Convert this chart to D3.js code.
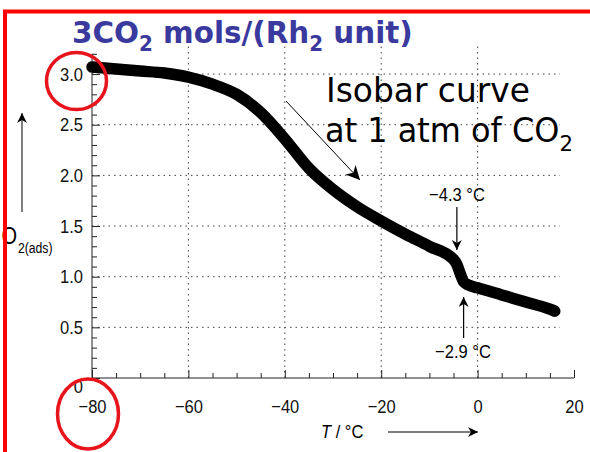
<!DOCTYPE html>
<html>
<head>
<meta charset="utf-8">
<script src="https://cdn.jsdelivr.net/npm/d3@7"></script>
<style>
  body { margin: 0; background: #fff; }
  svg { display: block; }
  .tick text { font-family: 'Liberation Sans', Arial, sans-serif; }
</style>
</head>
<body>
<div id="chart"></div>
<script>
// isobar data
const temps = [-80, -75, -70, -65, -60, -55, -50, -45, -40, -35, -30, -25, -20, -15, -10, -5, -4.3, -3.6, -2.9, -2, 0, 5, 10, 15, 16]
const amounts = [3.07, 3.05, 3.03, 3.01, 2.97, 2.90, 2.80, 2.62, 2.36, 2.07, 1.86, 1.69, 1.55, 1.42, 1.30, 1.17, 1.12, 1.03, 0.95, 0.92, 0.89, 0.82, 0.75, 0.68, 0.66]

const xTicks = [-80, -60, -40, -20, 0, 20]
const yTicks = [0, 0.5, 1.0, 1.5, 2.0, 2.5, 3.0]
const xGrid = [-60, -40, -20, 0]
const yGrid = [0.5, 1.0, 1.5, 2.0, 2.5, 3.0]

const width = 590
const height = 452
const sans = "'Liberation Sans', Arial, sans-serif"
const comic = "'Comic Sans MS', 'DejaVu Sans', sans-serif"
const squeeze = 0.87 // the source used a narrow Helvetica

const svg = d3.select('#chart')
  .append('svg')
  .attr('width', width)
  .attr('height', height)

const x = d3.scaleLinear().domain([-80, 20]).range([92, 574])
const y = d3.scaleLinear().domain([0, 3.2]).range([378, 53.8])

const defs = svg.append('defs')
defs.append('marker')
  .attr('id', 'head')
  .attr('viewBox', '0 0 10 10')
  .attr('refX', 10).attr('refY', 5)
  .attr('markerWidth', 10).attr('markerHeight', 10)
  .attr('markerUnits', 'userSpaceOnUse')
  .attr('orient', 'auto')
  .append('path').attr('d', 'M0,0 L10,5 L0,10 L3,5 Z').attr('fill', '#000')

defs.append('marker')
  .attr('id', 'bighead')
  .attr('viewBox', '0 0 10 10')
  .attr('refX', 10).attr('refY', 5)
  .attr('markerWidth', 16).attr('markerHeight', 14)
  .attr('markerUnits', 'userSpaceOnUse')
  .attr('orient', 'auto')
  .append('path').attr('d', 'M0,0 L10,5 L0,10 L3,5 Z').attr('fill', '#000')

// narrow a text horizontally around its anchor x
function narrow (sel, ax) {
  sel.attr('transform', 'translate(' + ax + ',0) scale(' + squeeze + ',1) translate(' + (-ax) + ',0)')
}

// grid
svg.append('g')
  .selectAll('line')
  .data(xGrid)
  .enter()
  .append('line')
  .attr('x1', d => x(d)).attr('x2', d => x(d))
  .attr('y1', y(0)).attr('y2', 43)
  .attr('stroke', '#444').attr('stroke-width', 1)
  .attr('stroke-dasharray', '1.5,4')

svg.append('g')
  .selectAll('line')
  .data(yGrid)
  .enter()
  .append('line')
  .attr('x1', x(-80)).attr('x2', 560)
  .attr('y1', d => y(d)).attr('y2', d => y(d))
  .attr('stroke', '#444').attr('stroke-width', 1)
  .attr('stroke-dasharray', '1.5,4')

// axes, ticks pointing inward
const xAxis = svg.append('g')
  .attr('transform', 'translate(0,' + y(0) + ')')
  .call(d3.axisBottom(x).tickValues(d3.range(-80, 21, 5)).tickSize(-5)
    .tickFormat(d => xTicks.includes(d) ? String(d).replace('-', '\u2212') : ''))
xAxis.select('.domain').attr('d', 'M' + x(-80) + ',0H' + x(20)).attr('stroke', '#222')
xAxis.selectAll('.tick line').attr('y2', d => xTicks.includes(d) ? -8 : -5).attr('stroke', '#222')
xAxis.selectAll('.tick text').attr('y', 22).attr('font-size', 19).attr('fill', '#111')
  .attr('transform', 'scale(' + squeeze + ',1)')

const yAxis = svg.append('g')
  .attr('transform', 'translate(' + x(-80) + ',0)')
  .call(d3.axisLeft(y).tickValues(d3.range(0, 33).map(i => i / 10)).tickSize(-5)
    .tickFormat(d => yTicks.some(t => Math.abs(t - d) < 1e-9) ? (d === 0 ? '0' : d3.format('.1f')(d)) : ''))
yAxis.select('.domain').attr('d', 'M0,' + y(0) + 'V' + y(3.2)).attr('stroke', '#222')
yAxis.selectAll('.tick line')
  .attr('x2', d => (Math.round(d * 10) % 5 === 0) ? 8 : 5)
  .attr('stroke', '#222')
yAxis.selectAll('.tick text').attr('x', -9).attr('font-size', 19).attr('fill', '#111')
  .attr('dy', d => d === 0 ? '0.75em' : '0.32em')
  .each(function () { narrow(d3.select(this), -9) })

// the isobar
const line = d3.line()
  .x((d, i) => x(temps[i]))
  .y(d => y(d))
  .curve(d3.curveMonotoneX)

svg.append('path')
  .datum(amounts)
  .attr('d', line)
  .attr('fill', 'none')
  .attr('stroke', '#000')
  .attr('stroke-width', 11.5)
  .attr('stroke-linecap', 'round')
  .attr('stroke-linejoin', 'round')

// stretch or squeeze a text to a measured width
function fit (sel, left, w) {
  const bb = sel.node().getBBox()
  const k = w / bb.width
  sel.attr('transform', 'translate(' + left + ',0) scale(' + k + ',1) translate(' + (-bb.x) + ',0)')
}

// title
const title = svg.append('text')
  .attr('y', 43)
  .attr('font-family', comic)
  .attr('font-weight', 'bold')
  .attr('font-size', 31)
  .attr('fill', '#3a3a9e')
title.append('tspan').text('3CO')
title.append('tspan').attr('font-size', 21).attr('dy', 8).text('2')
title.append('tspan').attr('dy', -8).text(' mols/(Rh')
title.append('tspan').attr('font-size', 21).attr('dy', 8).text('2')
title.append('tspan').attr('dy', -8).text(' unit)')
fit(title, 72, 341)

// note on the curve
const note1 = svg.append('text')
  .attr('y', 102)
  .attr('font-family', comic)
  .attr('font-size', 33)
  .attr('fill', '#000')
  .text('Isobar curve')
fit(note1, 326, 204)

const note2 = svg.append('text')
  .attr('y', 142)
  .attr('font-family', comic)
  .attr('font-size', 33)
  .attr('fill', '#000')
note2.append('tspan').text('at 1 atm of CO')
note2.append('tspan').attr('font-size', 22).attr('dy', 9).text('2')
fit(note2, 325, 248)

svg.append('line')
  .attr('x1', 286).attr('y1', 101)
  .attr('x2', 360).attr('y2', 180)
  .attr('stroke', '#000').attr('stroke-width', 1)
  .attr('marker-end', 'url(#bighead)')

// transition markers
const t1 = svg.append('text')
  .attr('x', 457).attr('y', 201)
  .attr('text-anchor', 'middle')
  .attr('font-family', sans).attr('font-size', 19)
  .text('\u22124.3 \u00b0C')
narrow(t1, 457)
svg.append('line')
  .attr('x1', x(-4.3)).attr('y1', 207)
  .attr('x2', x(-4.3)).attr('y2', 250)
  .attr('stroke', '#000').attr('stroke-width', 1.2)
  .attr('marker-end', 'url(#head)')

const t2 = svg.append('text')
  .attr('x', 463).attr('y', 358)
  .attr('text-anchor', 'middle')
  .attr('font-family', sans).attr('font-size', 19)
  .text('\u22122.9 \u00b0C')
narrow(t2, 463)
svg.append('line')
  .attr('x1', x(-2.9)).attr('y1', 338)
  .attr('x2', x(-2.9)).attr('y2', 297)
  .attr('stroke', '#000').attr('stroke-width', 1.2)
  .attr('marker-end', 'url(#head)')

// axis titles
const yLab = svg.append('text')
  .attr('x', 17).attr('y', 244)
  .attr('text-anchor', 'end')
  .attr('font-family', sans).attr('font-size', 23)
  .text('O')
narrow(yLab, 17)
const ySub = svg.append('text')
  .attr('x', 18).attr('y', 253)
  .attr('font-family', sans).attr('font-size', 14)
  .text('2(ads)')
narrow(ySub, 18)
svg.append('line')
  .attr('x1', 22).attr('y1', 212)
  .attr('x2', 22).attr('y2', 113)
  .attr('stroke', '#000').attr('stroke-width', 1)
  .attr('marker-end', 'url(#head)')

const xLab = svg.append('text')
  .attr('x', 321).attr('y', 438)
  .attr('font-family', sans).attr('font-size', 19)
xLab.append('tspan').attr('font-style', 'italic').text('T')
xLab.append('tspan').text(' / \u00b0C')
narrow(xLab, 321)
svg.append('line')
  .attr('x1', 388).attr('y1', 432)
  .attr('x2', 478).attr('y2', 432)
  .attr('stroke', '#000').attr('stroke-width', 1.2)
  .attr('marker-end', 'url(#head)')

// red highlights and frame
svg.append('ellipse')
  .attr('cx', 76.5).attr('cy', 81).attr('rx', 30).attr('ry', 28.5)
  .attr('fill', 'none').attr('stroke', '#e8141b').attr('stroke-width', 3.5)
svg.append('ellipse')
  .attr('cx', 88).attr('cy', 414).attr('rx', 30.5).attr('ry', 35)
  .attr('fill', 'none').attr('stroke', '#e8141b').attr('stroke-width', 3.5)

svg.append('path')
  .attr('d', 'M5,452V11.5H590')
  .attr('fill', 'none')
  .attr('stroke', '#ff0000')
  .attr('stroke-width', 4)
</script>
</body>
</html>
